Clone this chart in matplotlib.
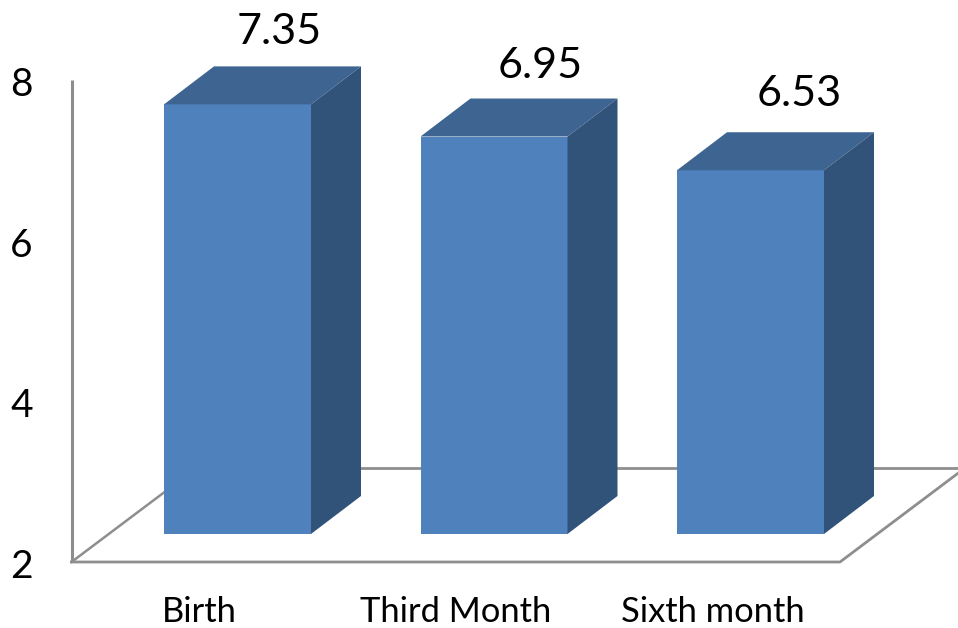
import matplotlib
matplotlib.use("Agg")
import matplotlib.pyplot as plt

categories = ["Birth", "Third Month", "Sixth month"]
values = [7.35, 6.95, 6.53]
y_ticks = [2, 4, 6, 8]

W, H = 958, 628
X0, X_STEP = 237.5, 256.5      # px of first bar centre, px between bars
Y_BASE, Y_UNIT = 534.0, 80.3   # px of value 2 at the bars' front plane, px per unit
BAR_W = 147 / X_STEP
DEPTH_X, DEPTH_Y = 50 / X_STEP, 38 / Y_UNIT
FLOOR_DROP = 28 / Y_UNIT
FRONT, TOP, SIDE = "#4F81BD", "#3E6491", "#325379"
GRID = "#8E8E8E"
FONT = "Lato"

fig = plt.figure(figsize=(W / 100, H / 100), dpi=100)
ax = fig.add_axes([0, 0, 1, 1])
ax.set_xlim((0 - X0) / X_STEP, (W - X0) / X_STEP)
ax.set_ylim(2 - (H - Y_BASE) / Y_UNIT, 2 + Y_BASE / Y_UNIT)
ax.axis("off")

# Chart frame: wall and floor
y_floor = y_ticks[0] - FLOOR_DROP
x_left = (71.5 - X0) / X_STEP
x_right = (840 - X0) / X_STEP
floor_dx = 125 / X_STEP
floor_dy = 94 / Y_UNIT
ax.plot([x_left, x_left], [y_floor + (y_ticks[-1] - y_ticks[0]) * 1.0, y_floor],
        color=GRID, lw=2.2, zorder=1, solid_capstyle="butt")
ax.plot([x_left, x_right, x_right + floor_dx], [y_floor, y_floor, y_floor + floor_dy],
        color=GRID, lw=2.0, zorder=1)
ax.plot([x_left, x_left + floor_dx], [y_floor, y_floor + floor_dy], color=GRID, lw=1.8, zorder=1)
ax.plot([x_left + floor_dx, (W + 2 - X0) / X_STEP], [y_floor + floor_dy] * 2, color=GRID, lw=2.0, zorder=1)

# 3D bars
xs = list(range(len(values)))
bottoms = y_ticks[0]
ax.bar(xs, [v - bottoms for v in values], BAR_W, bottom=bottoms, color=FRONT, zorder=3, edgecolor="none")
for x, v in zip(xs, values):
    l, r = x - BAR_W / 2, x + BAR_W / 2
    ax.fill([l, r, r + DEPTH_X, l + DEPTH_X], [v, v, v + DEPTH_Y, v + DEPTH_Y],
            color=TOP, lw=0, zorder=3)
    ax.fill([r, r + DEPTH_X, r + DEPTH_X, r], [bottoms, bottoms + DEPTH_Y, v + DEPTH_Y, v],
            color=SIDE, lw=0, zorder=3)

# Value labels
label_nudges = [(42, 72), (46, 71), (49, 76)]
for x, v, (nx, ny) in zip(xs, values, label_nudges):
    ax.annotate(f"{v:.2f}", (x, v), xytext=(nx, ny), textcoords="offset pixels",
                ha="center", va="center", fontsize=31, family=FONT, color="black", zorder=5)

# Axis tick labels
for t in y_ticks:
    ax.annotate(str(t), (x_left, y_floor + (t - y_ticks[0])), xytext=(-50, -5),
                textcoords="offset pixels", ha="center", va="center",
                fontsize=28, family=FONT, color="black")
cat_nudges = [-38, -38, -37.5]
for x, c, n in zip(xs, categories, cat_nudges):
    ax.annotate(c, (x, y_floor), xytext=(n, -50), textcoords="offset pixels",
                ha="center", va="center", fontsize=24.8, family=FONT, color="black")

fig.savefig("out.png", dpi=100, facecolor="white")
